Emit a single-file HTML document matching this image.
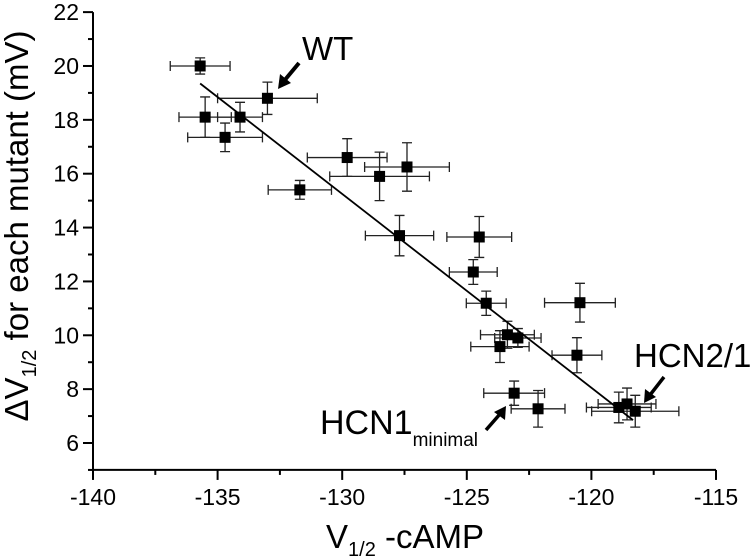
<!DOCTYPE html>
<html><head><meta charset="utf-8"><style>
html,body{margin:0;padding:0;background:#fff;}
svg{display:block;font-family:"Liberation Sans",Arial,sans-serif;}
</style></head><body>
<svg id="chart" width="751" height="560" viewBox="0 0 751 560">
<g id="axes"></g>
<g id="errs"></g>
<g id="fit"></g>
<g id="pts"></g>
<g>
  <text x="302" y="60" font-size="33">WT</text>
  <line x1="299" y1="63" x2="284" y2="81" stroke="#000" stroke-width="4"/>
  <polygon points="278,89 280,74 291,83" fill="#000"/>
  <text x="634" y="367" font-size="33">HCN2/1</text>
  <line x1="664" y1="377" x2="650" y2="395" stroke="#000" stroke-width="3.5"/>
  <polygon points="644,403 645,389 656,397" fill="#000"/>
  <text x="320" y="434" font-size="34">HCN1<tspan font-size="19" dy="12">minimal</tspan></text>
  <line x1="486" y1="430" x2="500" y2="414" stroke="#000" stroke-width="3.5"/>
  <polygon points="506,406 505,420 494,412" fill="#000"/>
</g>
<text x="0" y="0" font-size="33" text-anchor="middle" transform="translate(28,226) rotate(-90)">ΔV<tspan font-size="20" dy="8">1/2</tspan><tspan dy="-8"> for each mutant (mV)</tspan></text>
<text x="405" y="548" font-size="33" text-anchor="middle">V<tspan font-size="20" dy="8">1/2</tspan><tspan dy="-8"> -cAMP</tspan></text>
</svg>
<script>
const xs = [-135.7,-133.0,-135.5,-134.1,-134.7,-129.8,-127.4,-128.5,-131.7,-127.7,-124.5,-124.74,-124.22,-120.46,-123.37,-122.95,-123.67,-120.58,-123.1,-122.14,-118.9,-118.57,-118.24];
const ys = [20.0,18.8,18.1,18.1,17.35,16.6,16.25,15.9,15.4,13.7,13.65,12.35,11.19,11.21,10.02,9.9,9.58,9.26,7.85,7.27,7.32,7.45,7.18];
const xErr = [1.2,2.0,1.05,0.9,1.5,1.6,1.7,2.0,1.27,1.37,1.3,0.96,0.8,1.42,1.08,0.93,1.17,1.0,1.22,1.08,1.3,1.16,1.75];
const yErr = [0.3,0.6,0.75,0.55,0.53,0.7,0.9,0.9,0.35,0.75,0.76,0.46,0.45,0.72,0.5,0.35,0.59,0.65,0.45,0.68,0.57,0.59,0.59];
const fitX = [-135.7,-118.33];
const fitY = [19.35,6.85];
const xTicks = [-140,-135,-130,-125,-120,-115];
const yTicks = [6,8,10,12,14,16,18,20,22];
const NS='http://www.w3.org/2000/svg';
function X(v){return 93+(v+140)*24.92;}
function Y(v){return 443-(v-6)*26.93;}
function mk(tag,attrs,parent){const e=document.createElementNS(NS,tag);for(const k in attrs)e.setAttribute(k,attrs[k]);parent.appendChild(e);return e;}
const axes=document.getElementById('axes');
let l;
l=mk('line',{x1:X(-140),y1:Y(5),x2:X(-115),y2:Y(5),stroke:'#000','stroke-width':2},axes);


l=mk('line',{x1:X(-140),y1:Y(5),x2:X(-140),y2:Y(22),stroke:'#000','stroke-width':2},axes);


for(let v=-140;v<=-115;v+=2.5){
  const maj=Math.abs(v%5)<1e-9;
  const t=mk('line',{x1:X(v),y1:Y(5),x2:X(v),y2:Y(5)+(maj?10:5),stroke:'#000','stroke-width':2},axes);
  
  
}
xTicks.forEach(v=>{
  const t=mk('text',{x:X(v),y:Y(5)+35,'font-size':23,'text-anchor':'middle'},axes);t.textContent=v;
  
  
});
for(let v=5;v<=22;v+=1){
  const maj=(v%2===0);
  const t=mk('line',{x1:X(-140),y1:Y(v),x2:X(-140)-(maj?10:5),y2:Y(v),stroke:'#000','stroke-width':2},axes);
  
  
}
yTicks.forEach(v=>{
  const t=mk('text',{x:X(-140)-14,y:Y(v)+8,'font-size':23,'text-anchor':'end'},axes);t.textContent=v;
  
  
});
const errs=document.getElementById('errs'),pts=document.getElementById('pts');
xs.forEach((x,i)=>{
  const y=ys[i],cx=X(x),cy=Y(y),x1=X(x-xErr[i]),x2=X(x+xErr[i]),y1=Y(y+yErr[i]),y2=Y(y-yErr[i]);
  const p=mk('path',{d:`M${x1},${cy}H${x2}M${x1},${cy-5}V${cy+5}M${x2},${cy-5}V${cy+5}M${cx},${y1}V${y2}M${cx-5},${y1}H${cx+5}M${cx-5},${y2}H${cx+5}`,stroke:'#222','stroke-width':1.3,fill:'none'},errs);
  
  
  const r=mk('rect',{x:cx-5.5,y:cy-5.5,width:11,height:11,fill:'#000'},pts);
  
  
});
const fl=mk('line',{x1:X(fitX[0]),y1:Y(fitY[0]),x2:X(fitX[1]),y2:Y(fitY[1]),stroke:'#000','stroke-width':1.8},document.getElementById('fit'));


</script>
</body></html>
